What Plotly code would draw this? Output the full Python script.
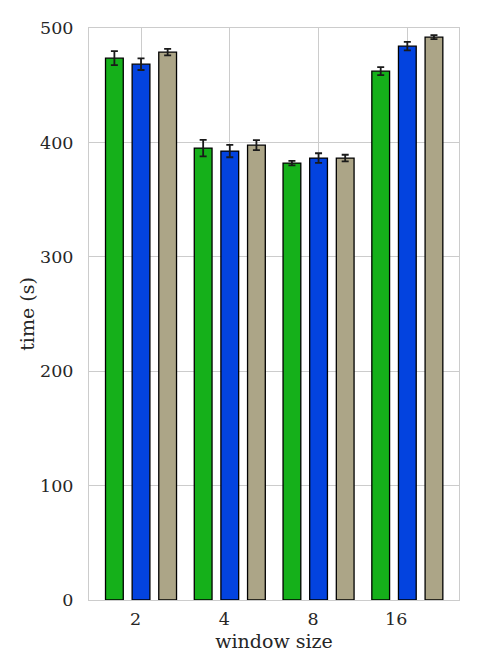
import plotly.graph_objects as go

window_sizes = ["2", "4", "8", "16"]
series_names = ["A", "B", "C"]
green_vals = [473.6, 395.0, 381.9, 462.3]
green_err = [6.1, 7.2, 1.9, 3.5]
blue_vals = [468.4, 392.4, 386.3, 484.1]
blue_err = [5.1, 5.4, 4.2, 3.7]
khaki_vals = [478.9, 397.6, 386.3, 492.0]
khaki_err = [2.8, 4.4, 2.9, 1.7]
colors = ["#15b01a", "#0343df", "#aca587"]
y_ticks = [0, 100, 200, 300, 400, 500]

# tick labels right-aligned at tick position (pad with figure spaces)
tick_text = [w + "\u2007" * len(w) for w in window_sizes]

font = "DejaVu Serif, serif"
fig = go.Figure()
for name, vals, errs, col in zip(series_names,
                                 [green_vals, blue_vals, khaki_vals],
                                 [green_err, blue_err, khaki_err], colors):
    fig.add_trace(go.Bar(
        x=window_sizes, y=vals, name=name,
        marker=dict(color=col, line=dict(color="black", width=1.3)),
        error_y=dict(type="data", array=errs, visible=True,
                     color="#1a1a1a", thickness=1.8, width=3.5),
    ))

fig.update_layout(
    width=480, height=672,
    margin=dict(l=89, r=21, t=28, b=72),
    barmode="group", bargap=0.1, bargroupgap=1/3,
    paper_bgcolor="white", plot_bgcolor="white",
    showlegend=False,
    font=dict(family=font, size=17.5, color="#262626"),
)
fig.update_xaxes(
    type="category", range=[-0.586, 3.582],
    tickvals=window_sizes, ticktext=tick_text,
    tickfont=dict(size=17.5),
    showgrid=True, gridcolor="#cccccc", gridwidth=1,
    showline=True, linecolor="#cccccc", linewidth=1, mirror=True,
    ticks="", ticklabelstandoff=3,
    title=dict(text="window size", font=dict(size=19), standoff=6),
)
fig.update_yaxes(
    range=[0, 500], tickvals=y_ticks,
    tickfont=dict(size=17.5),
    showgrid=True, gridcolor="#cccccc", gridwidth=1,
    showline=True, linecolor="#cccccc", linewidth=1, mirror=True,
    ticks="", ticklabelstandoff=11, zeroline=False,
    title=dict(text="time (s)", font=dict(size=19), standoff=0),
)
fig.write_html("out.html")
